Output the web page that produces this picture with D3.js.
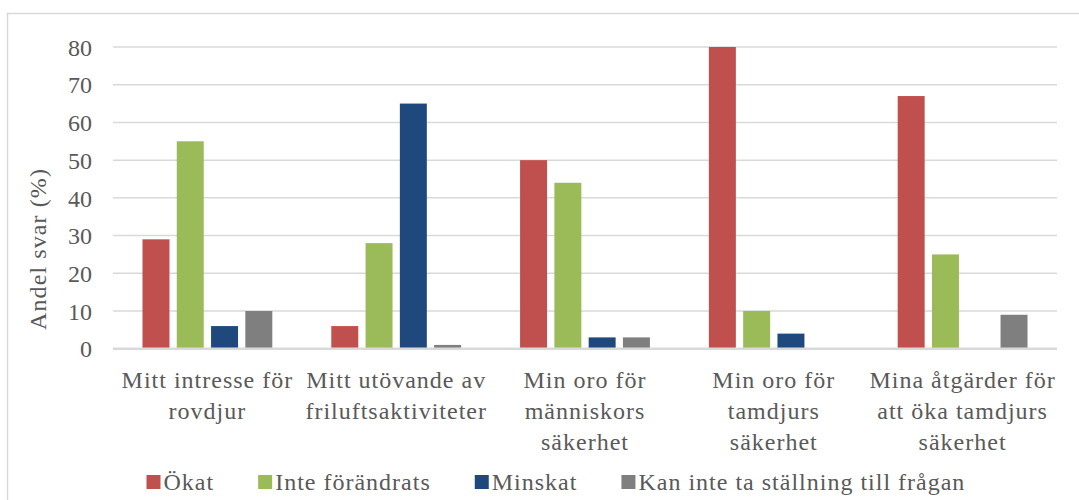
<!DOCTYPE html>
<html>
<head>
<meta charset="utf-8">
<script src="https://cdn.jsdelivr.net/npm/d3@7"></script>
<style>
  body { margin: 0; background: #fff; }
</style>
</head>
<body>
<script>
// data
var categories = [
  ["Mitt intresse för", "rovdjur"],
  ["Mitt utövande av", "friluftsaktiviteter"],
  ["Min oro för", "människors", "säkerhet"],
  ["Min oro för", "tamdjurs", "säkerhet"],
  ["Mina åtgärder för", "att öka tamdjurs", "säkerhet"]
];
var seriesNames = ["Ökat", "Inte förändrats", "Minskat", "Kan inte ta ställning till frågan"];
var seriesColors = ["#C0504D", "#9BBB59", "#1F497D", "#7F7F7F"];
var okat = [29, 6, 50, 80, 67];
var inteForandrats = [55, 28, 44, 10, 25];
var minskat = [6, 65, 3, 4, 0];
var kanInte = [10, 1, 3, 0, 9];
var yTicks = [0, 10, 20, 30, 40, 50, 60, 70, 80];

var values = [okat, inteForandrats, minskat, kanInte];

var width = 1079;
var height = 500;

var plotLeft = 113, plotRight = 1057, plotTop = 47, plotBottom = 348.7;
var serif = "'Liberation Serif', 'Times New Roman', 'DejaVu Serif', serif";
var textColor = "#595959";

var svg = d3.select("body").append("svg")
    .attr("width", width)
    .attr("height", height)
    .style("font-family", serif);

// chart border
svg.append("rect")
    .attr("x", 7.5)
    .attr("y", 13.5)
    .attr("width", 1100)
    .attr("height", 520)
    .attr("fill", "none")
    .attr("stroke", "#d9d9d9")
    .attr("stroke-width", 1.5);

var catIndex = d3.range(categories.length);

var x0 = d3.scaleBand()
    .domain(catIndex)
    .range([plotLeft, plotRight]);

var x1 = d3.scaleBand()
    .domain(d3.range(seriesNames.length))
    .range([0, x0.bandwidth()])
    .paddingInner(0.213)
    .paddingOuter(0.86);

var y = d3.scaleLinear()
    .domain([0, 80])
    .range([plotBottom, plotTop]);

// gridlines
svg.append("g")
  .selectAll("line")
  .data(yTicks.filter(function(d) { return d > 0; }))
  .enter().append("line")
    .attr("x1", plotLeft)
    .attr("x2", plotRight)
    .attr("y1", function(d) { return y(d); })
    .attr("y2", function(d) { return y(d); })
    .attr("stroke", "#d9d9d9")
    .attr("stroke-width", 1.5);

// y tick labels
var yAxis = svg.append("g")
    .attr("transform", "translate(" + (plotLeft - 21) + ",0)")
    .call(d3.axisLeft(y).tickValues(yTicks).tickSize(0).tickPadding(0));
yAxis.select(".domain").remove();
yAxis.attr("font-family", null).attr("font-size", null);
yAxis.selectAll("text")
    .attr("dy", "0.34em")
    .style("font-size", "24px")
    .attr("fill", textColor);

// bars
var groups = svg.append("g")
  .selectAll("g")
  .data(catIndex)
  .enter().append("g")
    .attr("transform", function(i) { return "translate(" + x0(i) + ",0)"; });

groups.selectAll("rect")
  .data(function(i) { return values.map(function(v, s) { return { s: s, v: v[i] }; }); })
  .enter().append("rect")
    .filter(function(d) { return d.v > 0; })
    .attr("x", function(d) { return x1(d.s); })
    .attr("width", x1.bandwidth())
    .attr("y", function(d) { return y(d.v); })
    .attr("height", function(d) { return y(0) - y(d.v); })
    .attr("fill", function(d) { return seriesColors[d.s]; });

// baseline
svg.append("line")
    .attr("x1", plotLeft)
    .attr("x2", plotRight)
    .attr("y1", y(0))
    .attr("y2", y(0))
    .attr("stroke", "#d9d9d9")
    .attr("stroke-width", 2.5);

// category labels
var catLabels = svg.append("g")
  .selectAll("text")
  .data(catIndex)
  .enter().append("text")
    .attr("x", function(i) { return x0(i) + x0.bandwidth() / 2; })
    .attr("y", 388)
    .attr("text-anchor", "middle")
    .attr("fill", textColor)
    .style("font-size", "24px")
    .style("letter-spacing", "1px");

catLabels.selectAll("tspan")
  .data(function(i) { return categories[i]; })
  .enter().append("tspan")
    .attr("x", function() { return d3.select(this.parentNode).attr("x"); })
    .attr("dy", function(d, j) { return j === 0 ? 0 : 31; })
    .text(function(d) { return d; });

// y axis title
svg.append("text")
    .attr("transform", "translate(46,249) rotate(-90)")
    .attr("text-anchor", "middle")
    .attr("fill", textColor)
    .style("font-size", "24px")
    .style("letter-spacing", "1.1px")
    .text("Andel svar (%)");

// legend
var legend = svg.append("g");
var lx = 146.5;
seriesNames.forEach(function(name, s) {
  legend.append("rect")
      .attr("x", lx)
      .attr("y", 475)
      .attr("width", 14)
      .attr("height", 14)
      .attr("fill", seriesColors[s]);
  var t = legend.append("text")
      .attr("x", lx + 17)
      .attr("y", 490)
      .attr("fill", textColor)
      .style("font-size", "24px")
      .style("letter-spacing", "1px")
      .text(name);
  lx += 17 + t.node().getComputedTextLength() + 44;
});
</script>
</body>
</html>
